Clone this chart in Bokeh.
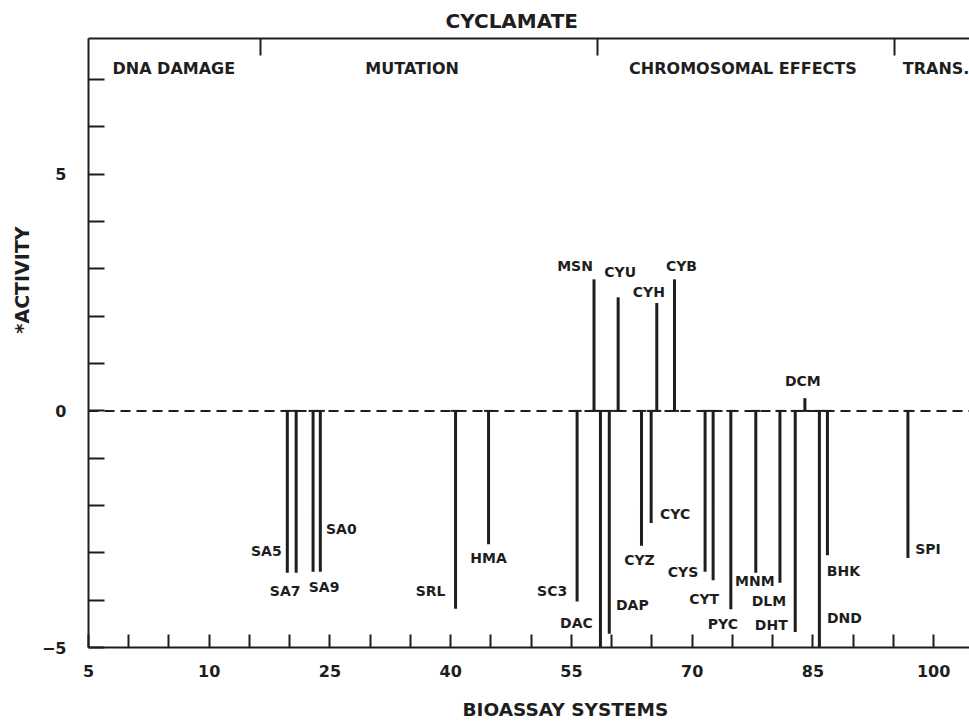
import math
from bokeh.plotting import figure
from bokeh.models import Range1d, FixedTicker, LinearAxis, Span, Title, ColumnDataSource
from bokeh.core.properties import value
from bokeh.embed import file_html
from bokeh.resources import INLINE

# ---------------- data ----------------
codes = ["SA5", "SA7", "SA9", "SA0", "SRL", "HMA", "SC3", "MSN", "DAC", "DAP",
         "CYU", "CYZ", "CYC", "CYH", "CYB", "CYS", "CYT", "PYC", "MNM", "DLM",
         "DHT", "DCM", "DND", "BHK", "SPI"]
system_pos = [19.7, 20.8, 22.9, 23.8, 40.6, 44.7, 55.7, 57.8, 58.6, 59.7,
              60.8, 63.7, 64.9, 65.6, 67.8, 71.6, 72.6, 74.8, 77.9, 80.9,
              82.8, 84.0, 85.8, 86.8, 96.8]
activity = [-3.42, -3.42, -3.40, -3.40, -4.18, -2.82, -4.03, 2.78, -5.0, -4.71,
            2.40, -2.85, -2.37, 2.28, 2.78, -3.40, -3.58, -4.19, -3.42, -3.63,
            -4.67, 0.27, -5.0, -3.05, -3.11]

sections = ["DNA DAMAGE", "MUTATION", "CHROMOSOMAL EFFECTS", "TRANS."]
section_bounds = [16.4, 58.2, 95.1]

x_tick_pos = [-5, 10, 25, 40, 55, 70, 85, 100]
x_tick_labels = ["5", "10", "25", "40", "55", "70", "85", "100"]
x_minor_pos = [0, 5, 15, 20, 30, 35, 45, 50, 60, 65, 75, 80, 90, 95]
y_tick_pos = [-5, 0, 5]
y_minor_pos = [-4, -3, -2, -1, 1, 2, 3, 4, 6, 7]

title_text = "CYCLAMATE"
x_title = "BIOASSAY SYSTEMS"
y_title = "*ACTIVITY"

# ---------------- layout / style ----------------
# label placement offsets (screen pixels from the bar end)
label_dx = [-21, -11, 11, 21, -25, 0, -25, -19, -24, 23,
            2, -2, 24, -8, 7, -22, -9, -8, -1, -11,
            -24, -2, 25, 16, 20]
label_dy = [-22, 18, 15, -43, -18, 14, -11, -13, -25, -29,
            -25, 14, -9, -11, -13, 0, 19, 15, 8, 18,
            -7, -17, -30, 16, -9]
section_centers = [5.6, 35.2, 76.3, 100.3]
section_y = 7.24

INK = "#1e1e1e"
FONT = "DejaVu Sans"
X0, X1 = -5, 104.45
Y0, Y1 = -5, 7.87

p = figure(frame_width=881, frame_height=609, output_backend="svg",
           toolbar_location=None, title=None,
           x_range=Range1d(X0, X1), y_range=Range1d(Y0, Y1),
           min_border_left=88, min_border_right=0, min_border_top=38,
           min_border_bottom=77)
p.outline_line_color = None
p.grid.visible = False
p.background_fill_color = "white"
p.border_fill_color = "white"


def style_axis(a, tick_len, standoff):
    a.axis_line_width = 2
    a.axis_line_color = INK
    a.major_tick_in = tick_len
    a.major_tick_out = 0
    a.minor_tick_in = tick_len
    a.minor_tick_out = 0
    a.major_tick_line_width = 2
    a.minor_tick_line_width = 2
    a.major_tick_line_color = INK
    a.minor_tick_line_color = INK
    a.major_label_standoff = standoff
    a.major_label_text_font = FONT
    a.major_label_text_font_style = "bold"
    a.major_label_text_font_size = "16px"
    a.major_label_text_color = INK


ax = p.xaxis[0]
ax.ticker = FixedTicker(ticks=x_tick_pos, minor_ticks=x_minor_pos)
ax.major_label_overrides = {t: l for t, l in zip(x_tick_pos, x_tick_labels)}
style_axis(ax, 13, 17)

ay = p.yaxis[0]
ay.ticker = FixedTicker(ticks=y_tick_pos, minor_ticks=y_minor_pos)
style_axis(ay, 16, 22)

# top line with section dividers
top = LinearAxis(ticker=FixedTicker(ticks=section_bounds, minor_ticks=[]),
                 major_label_overrides={b: "" for b in section_bounds})
style_axis(top, 17, 0)
top.minor_tick_in = 0
top.major_label_text_font_size = "1px"
p.add_layout(top, "above")

# titles
p.add_layout(Title(text=title_text, align="left", offset=357, standoff=11,
                   text_font=FONT, text_font_style="bold", text_font_size="20px",
                   text_color=INK), "above")
p.add_layout(Title(text=x_title, align="left", offset=374, standoff=34,
                   text_font=FONT, text_font_style="bold", text_font_size="18.5px",
                   text_color=INK), "below")
p.add_layout(Title(text=y_title, align="left", offset=314, standoff=11,
                   text_font=FONT, text_font_style="bold", text_font_size="19px",
                   text_color=INK), "left")

# zero line
p.add_layout(Span(location=0, dimension="width", line_color=INK,
                  line_dash="10 6", line_width=2, level="underlay"))

src = ColumnDataSource(dict(x=system_pos, v=activity, code=codes,
                            zero=[0] * len(codes), dx=label_dx, dy=label_dy))
p.segment(x0="x", y0="zero", x1="x", y1="v", line_width=3, line_color=INK, source=src)
p.scatter(x="x", y="zero", marker="dash", size=9, line_width=2, line_color=INK, source=src)
p.text(x="x", y="v", text="code", x_offset="dx", y_offset="dy",
       text_align="center", text_baseline="middle",
       text_font=value(FONT), text_font_style="bold", text_font_size="14px",
       text_color=INK, source=src)

p.text(x=section_centers, y=[section_y] * len(sections), text=sections,
       text_align="center", text_baseline="middle",
       text_font=value(FONT), text_font_style="bold", text_font_size="16px",
       text_color=INK)

open("out.html", "w").write(file_html(p, INLINE))
